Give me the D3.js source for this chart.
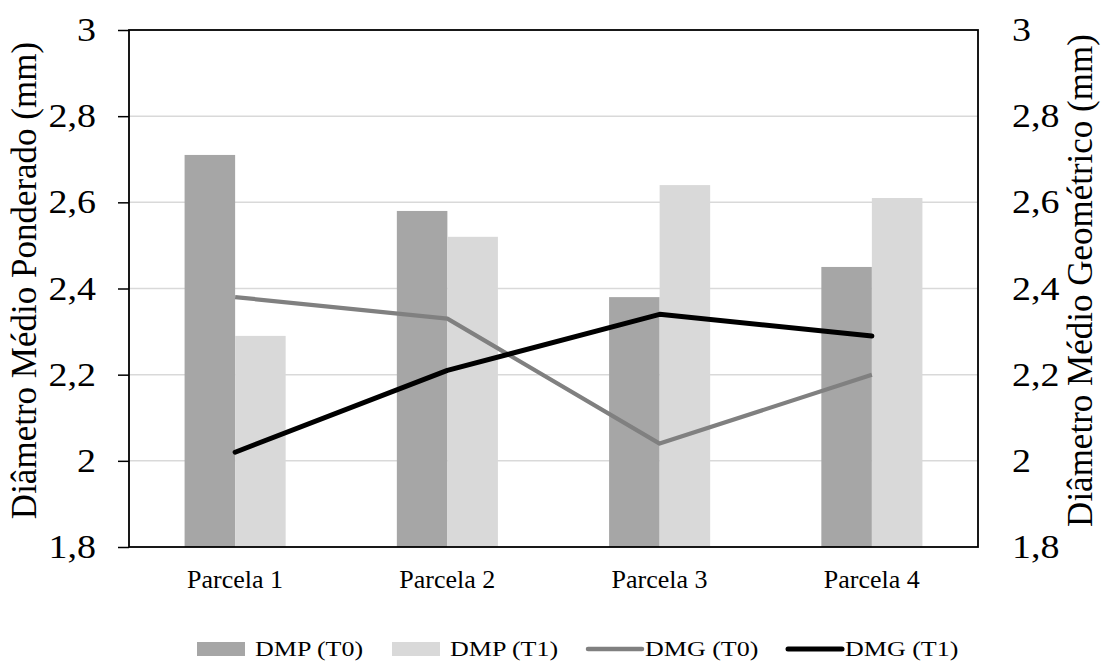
<!DOCTYPE html>
<html>
<head>
<meta charset="utf-8">
<script src="https://cdn.jsdelivr.net/npm/d3@7"></script>
<style>
  html, body { margin: 0; padding: 0; background: #fff; }
  svg text { font-family: "Liberation Serif", "Times New Roman", serif !important; fill: #000; }
</style>
</head>
<body>
<svg id="chart" width="1102" height="661"></svg>
<script>
// Plots (parcelas) on the x axis
const categories = ["Parcela 1", "Parcela 2", "Parcela 3", "Parcela 4"];

// Weighted mean diameter (bars, left axis)
const dmpT0 = [2.71, 2.58, 2.38, 2.45];
const dmpT1 = [2.29, 2.52, 2.64, 2.61];

// Geometric mean diameter (lines, right axis)
const dmgT0 = [2.38, 2.33, 2.04, 2.20];
const dmgT1 = [2.02, 2.21, 2.34, 2.29];

// Axis ticks, shared by both value axes
const yTicks = [1.8, 2.0, 2.2, 2.4, 2.6, 2.8, 3.0];
const tickLabels = ["1,8", "2", "2,2", "2,4", "2,6", "2,8", "3"];

const legendLabels = ["DMP (T0)", "DMP (T1)", "DMG (T0)", "DMG (T1)"];

const svg = d3.select("#chart");
const m = { left: 129, right: 978, top: 30, bottom: 547 };

// Widen glyphs horizontally by a factor, keeping the anchor point
function widen(sel, factor) {
  sel.each(function () {
    const len = this.getComputedTextLength();
    d3.select(this).attr("textLength", len * factor).attr("lengthAdjust", "spacingAndGlyphs");
  });
}

const x = d3.scaleBand().domain(categories).range([m.left, m.right]).paddingInner(0).paddingOuter(0);
const xSub = d3.scaleBand().domain(["t0", "t1"]).range([0, x.bandwidth()]).paddingOuter(1.1).paddingInner(0);
const yL = d3.scaleLinear().domain([1.8, 3.0]).range([m.bottom, m.top]);
const yR = d3.scaleLinear().domain([1.8, 3.0]).range([m.bottom, m.top]);

// Horizontal gridlines
svg.append("g").selectAll("line").data(yTicks.slice(1, -1)).join("line")
  .attr("x1", m.left).attr("x2", m.right)
  .attr("y1", d => yL(d)).attr("y2", d => yL(d))
  .attr("stroke", "#d9d9d9").attr("stroke-width", 1.5);

// Bars
const barColors = { t0: "#a6a6a6", t1: "#d9d9d9" };
const bars = categories.map((c, i) => [
  { c, k: "t0", v: dmpT0[i] },
  { c, k: "t1", v: dmpT1[i] }
]).flat();
svg.append("g").selectAll("rect").data(bars).join("rect")
  .attr("x", d => x(d.c) + xSub(d.k))
  .attr("width", xSub.bandwidth())
  .attr("y", d => yL(d.v))
  .attr("height", d => yL(1.8) - yL(d.v))
  .attr("fill", d => barColors[d.k]);

// Lines
const line = d3.line()
  .x((d, i) => x(categories[i]) + x.bandwidth() / 2)
  .y(d => yR(d));
svg.append("path").datum(dmgT0).attr("d", line)
  .attr("fill", "none").attr("stroke", "#808080").attr("stroke-width", 4.2)
  .attr("stroke-linejoin", "round").attr("stroke-linecap", "butt");
svg.append("path").datum(dmgT1).attr("d", line)
  .attr("fill", "none").attr("stroke", "#000").attr("stroke-width", 5)
  .attr("stroke-linejoin", "round").attr("stroke-linecap", "round");

// Frame
svg.append("rect")
  .attr("x", m.left).attr("y", m.top)
  .attr("width", m.right - m.left).attr("height", m.bottom - m.top)
  .attr("fill", "none").attr("stroke", "#000").attr("stroke-width", 1.8);

// Left axis
const leftAxis = d3.axisLeft(yL).tickValues(yTicks)
  .tickFormat((d, i) => tickLabels[i]).tickSize(11).tickPadding(22);
const gL = svg.append("g").attr("transform", `translate(${m.left},0)`).call(leftAxis);
gL.attr("font-family", null).attr("font-size", null);
gL.select(".domain").remove();
gL.selectAll(".tick line").attr("stroke", "#000").attr("stroke-width", 1.5);
gL.selectAll(".tick text").attr("font-size", 33).call(widen, 1.15);

// Right axis (labels only)
const rightAxis = d3.axisRight(yR).tickValues(yTicks)
  .tickFormat((d, i) => tickLabels[i]).tickSize(0).tickPadding(34);
const gR = svg.append("g").attr("transform", `translate(${m.right},0)`).call(rightAxis);
gR.attr("font-family", null).attr("font-size", null);
gR.select(".domain").remove();
gR.selectAll(".tick text").attr("font-size", 33).call(widen, 1.15);

// Category axis labels
svg.append("g").selectAll("text").data(categories).join("text")
  .attr("x", d => x(d) + x.bandwidth() / 2)
  .attr("y", 588)
  .attr("text-anchor", "middle")
  .attr("font-size", 26)
  .text(d => d);

// Axis titles
svg.append("text")
  .attr("transform", `translate(36,${(m.top + m.bottom) / 2 - 8}) rotate(-90)`)
  .attr("text-anchor", "middle").attr("font-size", 35)
  .text("Diâmetro Médio Ponderado (mm)");
svg.append("text")
  .attr("transform", `translate(1092,${(m.top + m.bottom) / 2 - 8}) rotate(-90)`)
  .attr("text-anchor", "middle").attr("font-size", 35)
  .text("Diâmetro Médio Geométrico (mm)");

// Legend
const legendX = [197, 392, 588, 788];
const lg = svg.append("g");
legendLabels.forEach((lab, i) => {
  const g = lg.append("g").attr("transform", `translate(${legendX[i]},649)`);
  let t;
  if (i < 2) {
    g.append("rect").attr("x", 0).attr("y", -7).attr("width", 48).attr("height", 14)
      .attr("fill", i === 0 ? barColors.t0 : barColors.t1);
    t = g.append("text").attr("x", 58);
  } else {
    g.append("line").attr("x1", 0).attr("x2", 54).attr("y1", 0).attr("y2", 0)
      .attr("stroke", i === 2 ? "#808080" : "#000").attr("stroke-width", i === 2 ? 4.5 : 5)
      .attr("stroke-linecap", "round");
    t = g.append("text").attr("x", 57);
  }
  t.attr("y", 6.5).attr("font-size", 20).text(lab).call(widen, 1.3);
});
</script>
</body>
</html>
